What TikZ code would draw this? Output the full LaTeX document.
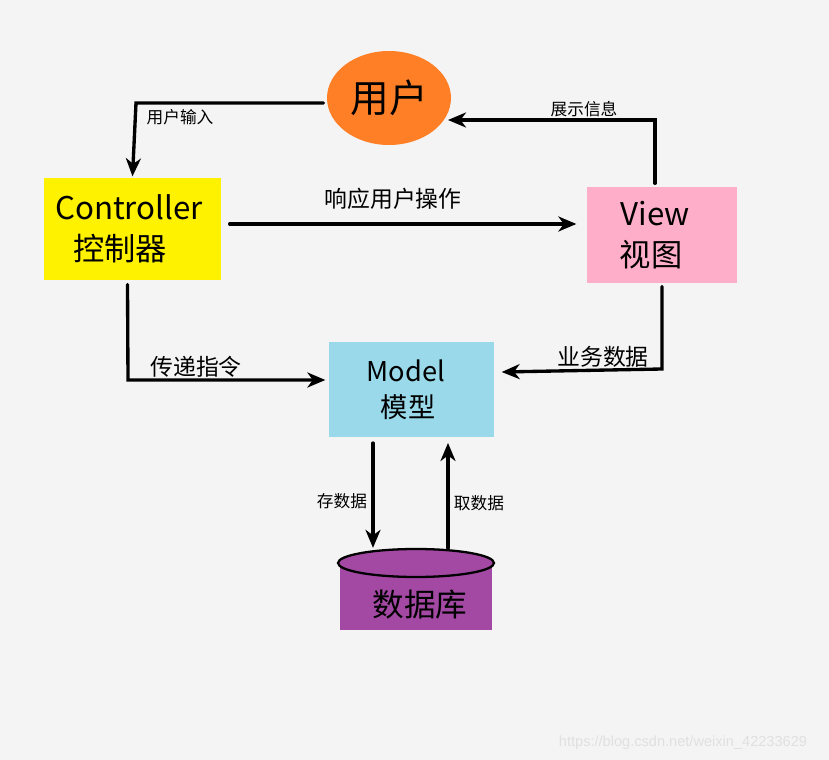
\documentclass[tikz,border=0pt]{standalone}
\usepackage{fontspec}
\setmainfont{Noto Sans CJK SC}
\newfontfamily\markfont{Liberation Sans}
\usetikzlibrary{arrows.meta, shapes.geometric, calc}

\definecolor{bgcolor}{HTML}{F4F4F4}
\definecolor{usercolor}{HTML}{FF7F27}
\definecolor{ctrlcolor}{HTML}{FFF200}
\definecolor{viewcolor}{HTML}{FFAEC9}
\definecolor{modelcolor}{HTML}{99D9EA}
\definecolor{dbcolor}{HTML}{A349A4}

\begin{document}
\begin{tikzpicture}[%
        x = 0.02cm,
        y = -0.02cm,
        > = {Stealth[length = 3.6mm, width = 3mm, inset = 1.1mm]},
        line width = 1.9pt,
        line cap = round,
        box/.style = {%
            rectangle,
            align = center,
            inner sep = 0pt,
            font = \fontsize{17.8}{23}\selectfont
        },
        lbl/.style = {font = \fontsize{13}{15}\selectfont},
        small/.style = {font = \fontsize{9.5}{11}\selectfont}
    ]

    % Background and page size.
    \fill[bgcolor] (0, 0) rectangle (829, 760);
    \useasboundingbox (0, 0) rectangle (829, 760);

    % The user.
    \node[ellipse, fill = usercolor, minimum width = 2.48cm,
        minimum height = 1.88cm, inner sep = 0pt,
        font = \fontsize{22}{26}\selectfont] (user) at (389, 98) {用户};

    % Controller, view and model.
    \node[box, fill = ctrlcolor, minimum width = 3.54cm,
        minimum height = 2.04cm] (ctrl) at (132.5, 229)
        {\hspace*{-0.14cm}Controller\\\hspace*{-0.5cm}控制器};
    \node[box, fill = viewcolor, minimum width = 3.0cm,
        minimum height = 1.92cm] (view) at (662, 235)
        {\hspace*{-0.28cm}View\\\hspace*{-0.44cm}视图};
    \node[box, fill = modelcolor, minimum width = 3.3cm,
        minimum height = 1.9cm, font = \fontsize{15.5}{20.5}\selectfont]
        (model) at (411.5, 389.5) {\hspace*{-0.22cm}Model\\\hspace*{-0.14cm}模型};

    % Database.
    \node[rectangle, fill = dbcolor, minimum width = 3.04cm,
        minimum height = 1.36cm] (db) at (416, 596) {};
    \node[ellipse, fill = dbcolor, draw = black, line width = 1.3pt,
        minimum width = 3.12cm, minimum height = 0.56cm] (dbtop) at (416, 563) {};
    \node[font = \fontsize{18}{22}\selectfont] (dbname) at (420, 605) {数据库};

    % Bends of the connectors.
    \coordinate (uIn) at (136, 103);
    \coordinate (vUp) at (655, 120);
    \coordinate (cDown) at (128, 380);
    \coordinate (vDown) at (662, 369);
    \coordinate (save) at (373, 443);
    \coordinate (load) at (448, 443);

    % Connectors.
    \draw[->] ($(user.west) + (-2, 5)$) to (uIn) to (ctrl.north);
    \draw[->] ($(ctrl.east) + (7, -5)$) to ($(view.west) + (-9, -11)$);
    \draw[->] ($(view.north) + (-7, -2)$) to (vUp) to (vUp -| 448, 0);
    \draw[->] ($(ctrl.south) + (-5, 3)$) to (cDown) to ($(model.west) + (-2, -9.5)$);
    \draw[->] ($(view.south) + (0, 2)$) to (vDown) to ($(model.east) + (6, -17.5)$);
    \draw[->] (save) to (save |- dbtop.north);
    \draw[->] (load |- dbtop.north) to (load);

    % Labels.
    \node[small] (lIn) at (180, 117) {用户输入};
    \node[small] (lShow) at (584, 109) {展示信息};
    \node[lbl] (lResp) at (393, 199) {响应用户操作};
    \node[lbl] (lCmd) at (196, 367) {传递指令};
    \node[lbl] (lData) at (603, 357) {业务数据};
    \node[small] (lSave) at (342, 501) {存数据};
    \node[small] (lLoad) at (479, 503) {取数据};

    % Watermark.
    \node[font = \markfont\fontsize{8.3}{10}\selectfont, text = black!12]
        (mark) at (683, 743) {https://blog.csdn.net/weixin\_42233629};
\end{tikzpicture}
\end{document}
